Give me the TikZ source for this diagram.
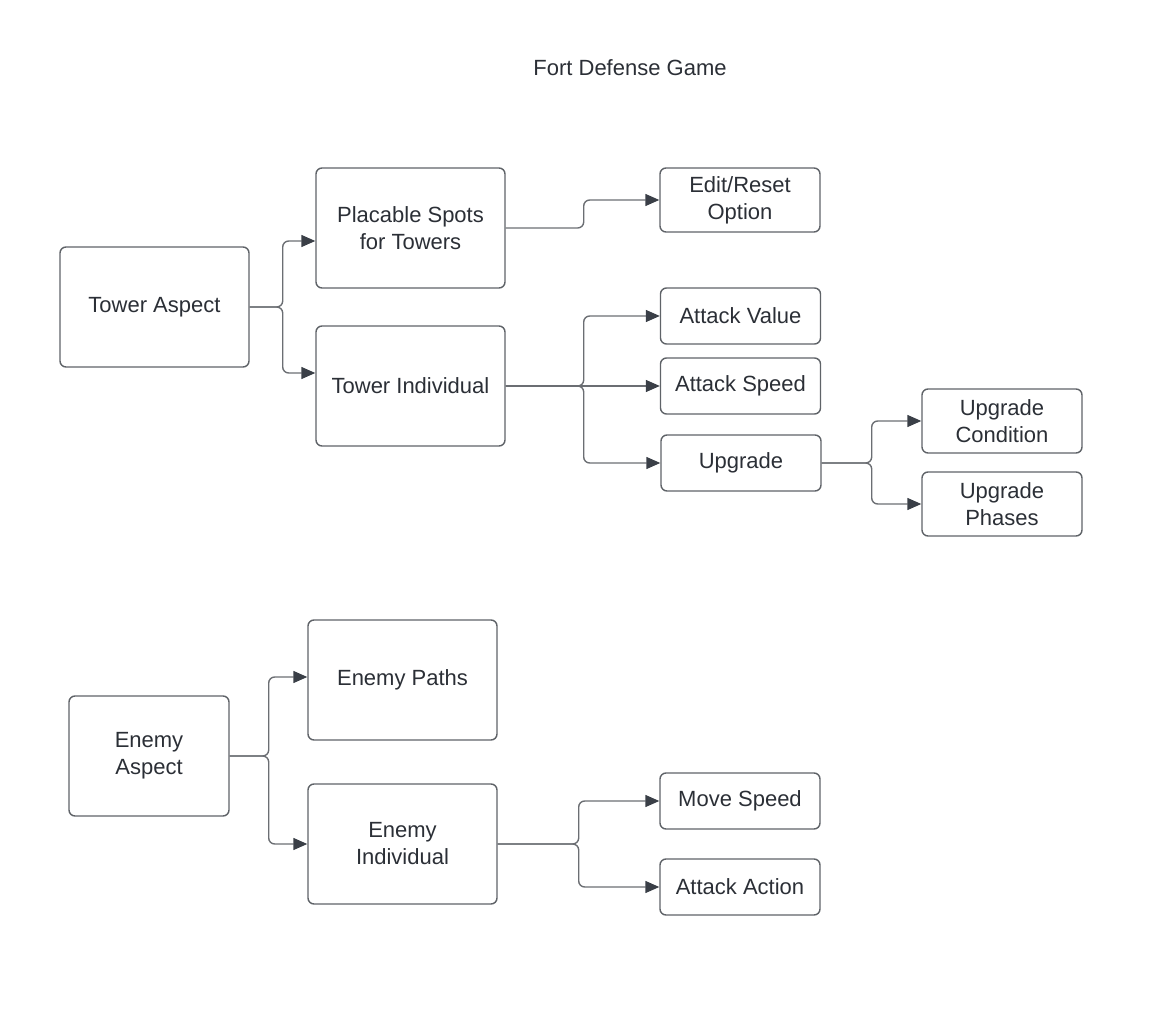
\documentclass[tikz,border=0pt]{standalone}
\usepackage{fontspec}
\setmainfont{Liberation Sans}
\usetikzlibrary{arrows.meta}
\definecolor{boxline}{HTML}{5F6368}
\definecolor{txt}{HTML}{2B2F36}
\definecolor{lnk}{HTML}{6B6E73}
\definecolor{tip}{HTML}{3A3F47}
\begin{document}
\begin{tikzpicture}[x=0.5pt,y=-0.5pt,
    box/.style={draw=boxline,line width=0.7pt,rounded corners=3pt,align=center,
      text=txt,font=\fontsize{11}{13.5}\selectfont,inner sep=0pt},
    big/.style={box,minimum width=94.5pt,minimum height=60pt},
    small/.style={box,minimum width=80pt,minimum height=28pt},
    tall/.style={box,minimum width=80pt,minimum height=32pt},
    link/.style={draw=lnk,line width=0.7pt,rounded corners=3pt,
      -{Triangle[length=7pt,width=6pt,color=tip]}}]
  \useasboundingbox (0,0) rectangle (1157,1010);
  \node[text=txt,font=\fontsize{11}{13.5}\selectfont] (title) at (630,68) {Fort Defense Game};
  % tower side
  \node[big] (ta) at (154.5,307) {Tower Aspect};
  \node[big] (ps) at (410.5,228) {Placable Spots\\for Towers};
  \node[big] (ti) at (410.5,386) {Tower Individual};
  \node[tall] (er) at (740,200) {Edit/Reset\\Option};
  \node[small] (av) at (740.5,316) {Attack Value};
  \node[small] (as) at (740.5,386) {Attack Speed};
  \node[small] (up) at (741,463) {Upgrade};
  \node[tall] (uc) at (1002,421) {Upgrade\\Condition};
  \node[tall] (uph) at (1002,504) {Upgrade\\Phases};
  % enemy side
  \node[box,minimum width=80pt,minimum height=60pt] (ea) at (149,756) {Enemy\\Aspect};
  \node[big] (ep) at (402.5,680) {Enemy Paths};
  \node[big] (ei) at (402.5,844) {Enemy\\Individual};
  \node[small] (ms) at (740,801) {Move Speed};
  \node[small] (aa) at (740,887) {Attack Action};

  \draw[link] (ta.east) -- ++(33,0) |- ([yshift=-6.5pt]ps.west);
  \draw[link] (ta.east) -- ++(33,0) |- ([yshift=6.5pt]ti.west);
  \draw[link] (ps.east) -- ++(78,0) |- (er.west);
  \draw[link] (ti.east) -- ++(78,0) |- (av.west);
  \draw[link] (ti.east) -- (as.west);
  \draw[link] (ti.east) -- ++(78,0) |- (up.west);
  \draw[link] (up.east) -- ++(50,0) |- (uc.west);
  \draw[link] (up.east) -- ++(50,0) |- (uph.west);
  \draw[link] (ea.east) -- ++(39,0) |- ([yshift=1.5pt]ep.west);
  \draw[link] (ea.east) -- ++(39,0) |- (ei.west);
  \draw[link] (ei.east) -- ++(81,0) |- (ms.west);
  \draw[link] (ei.east) -- ++(81,0) |- (aa.west);
\end{tikzpicture}
\end{document}
